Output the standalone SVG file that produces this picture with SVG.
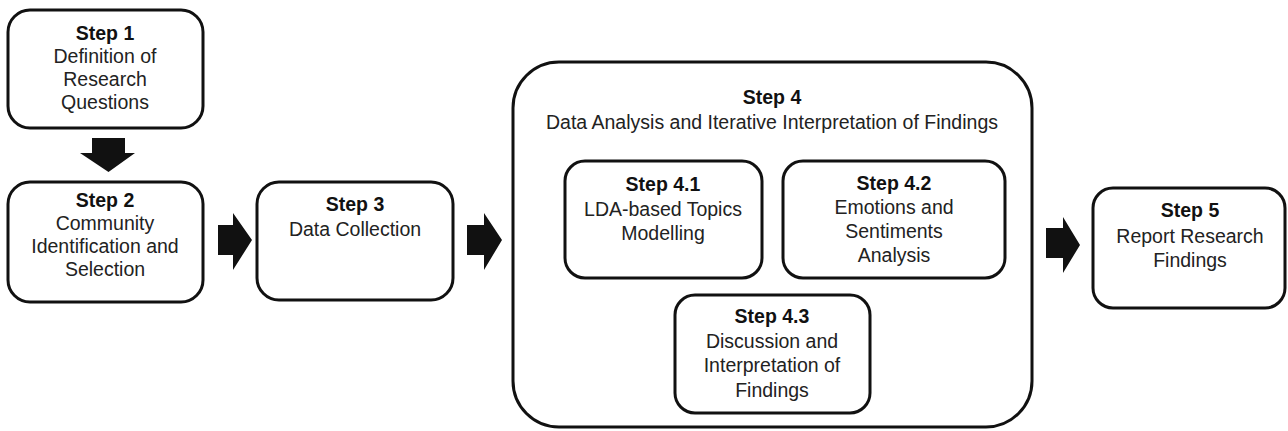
<svg xmlns="http://www.w3.org/2000/svg" width="1288" height="431" viewBox="0 0 1288 431">
<style>
.box{fill:#fff;stroke:#111;stroke-width:3}
.t{font-family:"Liberation Sans",Arial,sans-serif;font-size:19.5px;fill:#222;text-anchor:middle}
.b{font-weight:bold;fill:#111}
.arr{fill:#111}
</style>
<rect width="1288" height="431" fill="#fff"/>
<g id="step1">
<rect class="box" x="8" y="10" width="195" height="118" rx="22"/>
<text class="t b" x="105" y="40">Step 1</text>
<text class="t" x="105" y="63">Definition of</text>
<text class="t" x="105" y="86">Research</text>
<text class="t" x="105" y="109">Questions</text>
</g>
<g id="step2">
<rect class="box" x="8" y="182" width="195" height="120" rx="22"/>
<text class="t b" x="105" y="207">Step 2</text>
<text class="t" x="105" y="230">Community</text>
<text class="t" x="105" y="253">Identification and</text>
<text class="t" x="105" y="276">Selection</text>
</g>
<g id="step3">
<rect class="box" x="257" y="182" width="196" height="118" rx="22"/>
<text class="t b" x="355" y="211">Step 3</text>
<text class="t" x="355" y="236">Data Collection</text>
</g>
<g id="step4">
<rect class="box" x="513" y="62" width="519" height="365" rx="46"/>
<text class="t b" x="772" y="104">Step 4</text>
<text class="t" x="772" y="129">Data Analysis and Iterative Interpretation of Findings</text>
</g>
<g id="step4_1">
<rect class="box" x="565" y="161" width="197" height="117" rx="20"/>
<text class="t b" x="663" y="191">Step 4.1</text>
<text class="t" x="663" y="216">LDA-based Topics</text>
<text class="t" x="663" y="240">Modelling</text>
</g>
<g id="step4_2">
<rect class="box" x="783" y="161" width="222" height="117" rx="20"/>
<text class="t b" x="894" y="190">Step 4.2</text>
<text class="t" x="894" y="214">Emotions and</text>
<text class="t" x="894" y="238">Sentiments</text>
<text class="t" x="894" y="262">Analysis</text>
</g>
<g id="step4_3">
<rect class="box" x="675" y="295" width="195" height="118" rx="20"/>
<text class="t b" x="772" y="323">Step 4.3</text>
<text class="t" x="772" y="348">Discussion and</text>
<text class="t" x="772" y="372">Interpretation of</text>
<text class="t" x="772" y="397">Findings</text>
</g>
<g id="step5">
<rect class="box" x="1093" y="188" width="192" height="120" rx="20"/>
<text class="t b" x="1190" y="217">Step 5</text>
<text class="t" x="1190" y="243">Report Research</text>
<text class="t" x="1190" y="267">Findings</text>
</g>
<g id="connectors">
<polygon class="arr" points="92,138 125,138 125,153 135,153 108.5,172 80,153 92,153"/>
<polygon class="arr" points="218,225 233,225 233,213 252,240 233,270 233,255 218,255"/>
<polygon class="arr" points="467,225 484,225 484,213 502,240 484,270 484,255 467,255"/>
<polygon class="arr" points="1046,228 1063,228 1063,217 1080,245 1063,273 1063,258 1046,258"/>
</g>
</svg>
